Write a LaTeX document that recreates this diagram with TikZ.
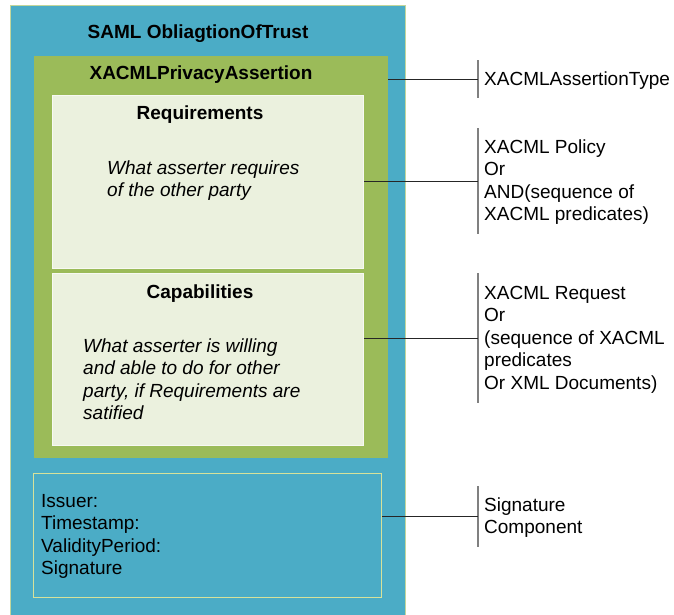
\documentclass[tikz,border=0pt]{standalone}
\usepackage{fontspec}
\setmainfont{Liberation Sans}
\definecolor{outerblue}{HTML}{4BACC6}
\definecolor{midgreen}{HTML}{9BBB59}
\definecolor{palegreen}{HTML}{EBF1DE}
\definecolor{outerborder}{HTML}{C3D69B}
\definecolor{sigborder}{HTML}{D7E29A}
\definecolor{bargray}{HTML}{808080}
\begin{document}
\begin{tikzpicture}[x=1pt,y=-1pt,
  box/.style={rectangle, inner sep=0pt, anchor=north west, line width=1pt},
  txt/.style={font=\fontsize{19}{22.5}\selectfont, inner sep=0pt, align=left},
  ttl/.style={font=\fontsize{19}{22.5}\selectfont\bfseries, inner sep=0pt},
  bar/.style={rectangle, fill=bargray, draw=none, minimum width=1.6pt, inner sep=0pt},
  conn/.style={draw=black!85, line width=1pt}]
\useasboundingbox (0,0) rectangle (674,614);
% boxes
\node[box, fill=outerblue, draw=outerborder, minimum width=395pt, minimum height=612pt] (outer) at (10,5) {};
\node[box, fill=midgreen, draw=midgreen, minimum width=353pt, minimum height=401pt] (green) at (34,56) {};
\node[box, fill=palegreen, draw=white!60!palegreen, minimum width=311pt, minimum height=173pt] (req) at (52,95) {};
\node[box, fill=palegreen, draw=white!60!palegreen, minimum width=311pt, minimum height=172pt] (cap) at (52,273) {};
\node[box, draw=sigborder, minimum width=348pt, minimum height=124pt] (sig) at (33,473) {};
% titles and texts inside
\node[ttl] (t1) at (198,34) {SAML ObliagtionOfTrust};
\node[ttl] (t2) at (201,75) {XACMLPrivacyAssertion};
\node[ttl] (t3) at (200,115) {Requirements};
\node[ttl] (t4) at (200,294) {Capabilities};
\node[txt, anchor=west, font=\fontsize{19}{22.5}\selectfont\itshape] (rtxt) at (107,180.5) {What asserter requires\\of the other party};
\node[txt, anchor=west, font=\fontsize{19}{22.5}\selectfont\itshape] (ctxt) at (83,379) {What asserter is willing\\and able to do for other\\party, if Requirements are\\satified};
\node[txt, anchor=west] (stxt) at (41,536.5) {Issuer:\\Timestamp:\\ValidityPeriod:\\Signature};
% bars
\node[bar, minimum height=38pt] (b1) at (478,79) {};
\node[bar, minimum height=106pt] (b2) at (478,181) {};
\node[bar, minimum height=130pt] (b3) at (478,338) {};
\node[bar, minimum height=61pt] (b4) at (478,516.5) {};
% connectors
\draw[conn] (green.east |- b1) -- (b1.center);
\draw[conn] (req.east |- b2) -- (b2.center);
\draw[conn] (cap.east |- b3) -- (b3.center);
\draw[conn] (sig.east |- b4) -- (b4.center);
% right labels
\node[txt, anchor=west] (l1) at (484,81) {XACMLAssertionType};
\node[txt, anchor=west] (l2) at (484,182) {XACML Policy\\Or\\AND(sequence of\\XACML predicates)};
\node[txt, anchor=west] (l3) at (484,339.5) {XACML Request\\Or\\(sequence of XACML\\predicates\\Or XML Documents)};
\node[txt, anchor=west] (l4) at (484,517.5) {Signature\\Component};
\end{tikzpicture}
\end{document}
